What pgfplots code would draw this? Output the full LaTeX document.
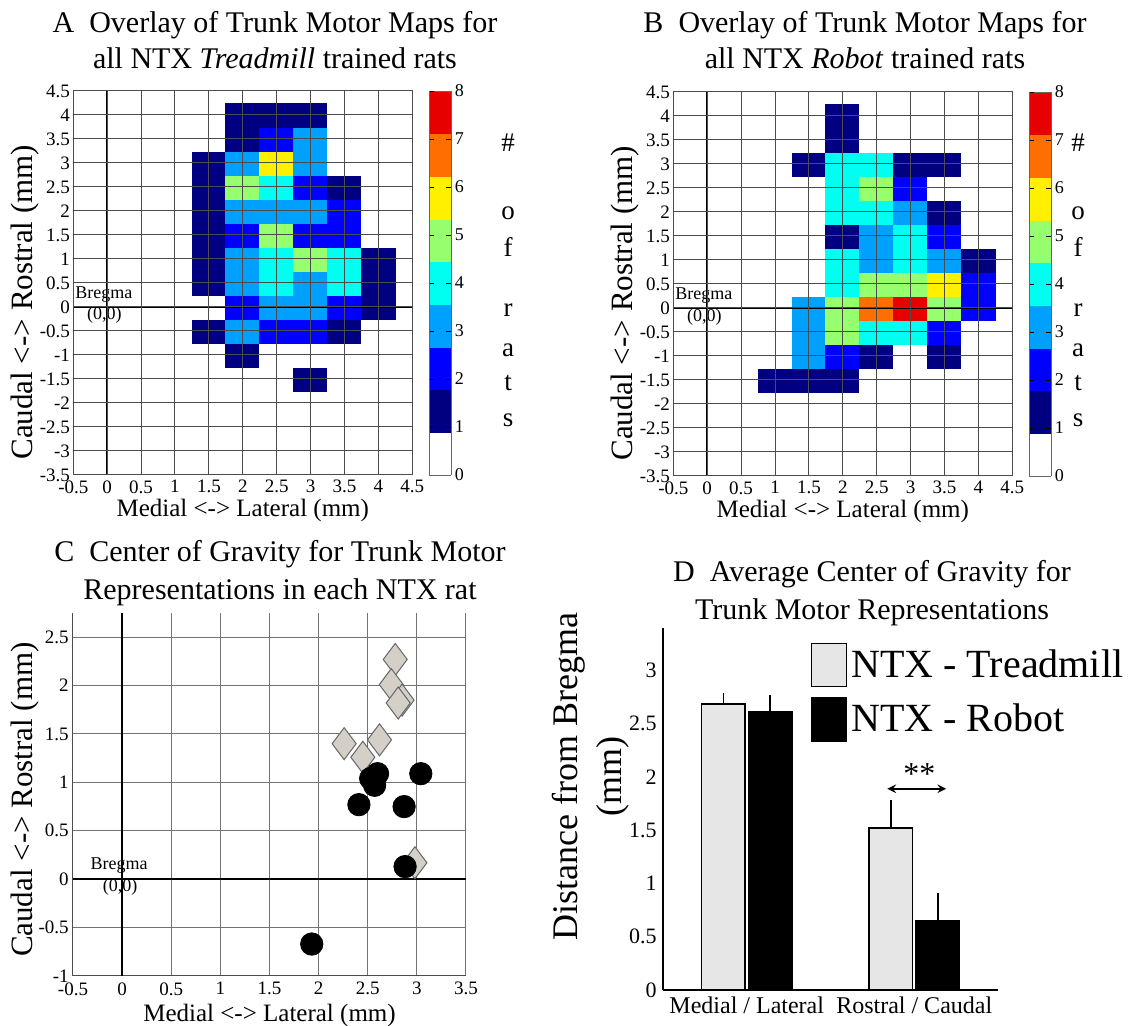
\documentclass[border=0pt]{standalone}
\usepackage{fontspec}
\setmainfont{Liberation Serif}
\usepackage{pgfplots}
\pgfplotsset{compat=1.18}
\pgfplotsset{every axis/.append style={/pgf/number format/assume math mode=true}}
\pgfplotsset{
  boxlegend/.style={legend image code/.code={\draw[##1] (0pt,-10.75pt) rectangle (17.5pt,10.75pt);}},
  colormap={rats}{rgb255=(255,255,255) rgb255=(0,0,128) rgb255=(0,0,255) rgb255=(0,160,255) rgb255=(0,255,240) rgb255=(150,255,110) rgb255=(255,240,0) rgb255=(255,110,0) rgb255=(230,0,0)},
  mapaxis/.style={
    scale only axis, width=169.5pt, height=192pt,
    xmin=-0.5, xmax=4.5, ymin=-3.5, ymax=4.5,
    xtick={-0.5,0,0.5,1,1.5,2,2.5,3,3.5,4,4.5},
    xticklabels={-0.5,0,0.5,1,1.5,2,2.5,3,3.5,4,4.5},
    ytick={-3.5,-3,-2.5,-2,-1.5,-1,-0.5,0,0.5,1,1.5,2,2.5,3,3.5,4,4.5},
    yticklabels={-3.5,-3,-2.5,-2,-1.5,-1,-0.5,0,0.5,1,1.5,2,2.5,3,3.5,4,4.5},
    grid=major, grid style={black!70, line width=0.5pt},
    axis on top, major tick length=0pt,
    axis line style={black!70, line width=0.5pt},
    tick label style={font=\fontsize{9.5}{11}\selectfont},
    xticklabel style={inner sep=2.5pt},
    yticklabel style={inner sep=1.5pt},
    colormap name=rats, colormap access=piecewise constant,
    point meta min=0, point meta max=8,
    colorbar,
    colorbar style={width=11pt, at={(parent axis.north east)}, anchor=north west,
      ytick={0,1,2,3,4,5,6,7,8}, /pgf/number format/assume math mode=true,
      yticklabel style={font=\fontsize{9}{11}\selectfont, inner sep=1.5pt},
      major tick length=2.5pt, axis line style={black!60}, tick style={black}},
    xlabel={Medial <-> Lateral (mm)},
    ylabel={Caudal <-> Rostral (mm)},
    xlabel style={font=\fontsize{12.5}{15}\selectfont, at={(axis description cs:0.5,0)}, anchor=center, yshift=-18pt},
    ylabel style={font=\fontsize{15.5}{17}\selectfont, at={(axis description cs:-0.142,0.45)}, anchor=center},
  },
}
\begin{document}
\begin{tikzpicture}
\useasboundingbox (0,0) rectangle (568pt,513pt);

% ---------------- Panel A ----------------
\begin{axis}[mapaxis, at={(36.65pt,275.5pt)}, anchor=south west]
\addplot[matrix plot*, mesh/cols=6, point meta=explicit] table[meta=c] {
x y c
1.5 -1.5 0
2 -1.5 0
2.5 -1.5 0
3 -1.5 1
3.5 -1.5 0
4 -1.5 0
1.5 -1 0
2 -1 1
2.5 -1 0
3 -1 0
3.5 -1 0
4 -1 0
1.5 -0.5 1
2 -0.5 3
2.5 -0.5 2
3 -0.5 2
3.5 -0.5 1
4 -0.5 0
1.5 0 0
2 0 2
2.5 0 3
3 0 3
3.5 0 2
4 0 1
1.5 0.5 1
2 0.5 3
2.5 0.5 4
3 0.5 3
3.5 0.5 4
4 0.5 1
1.5 1 1
2 1 3
2.5 1 4
3 1 5
3.5 1 4
4 1 1
1.5 1.5 1
2 1.5 2
2.5 1.5 5
3 1.5 2
3.5 1.5 2
4 1.5 0
1.5 2 1
2 2 3
2.5 2 3
3 2 3
3.5 2 2
4 2 0
1.5 2.5 1
2 2.5 5
2.5 2.5 4
3 2.5 2
3.5 2.5 1
4 2.5 0
1.5 3 1
2 3 3
2.5 3 6
3 3 3
3.5 3 0
4 3 0
1.5 3.5 0
2 3.5 1
2.5 3.5 2
3 3.5 3
3.5 3.5 0
4 3.5 0
1.5 4 0
2 4 1
2.5 4 1
3 4 1
3.5 4 0
4 4 0
};
\addplot[black, line width=1pt] coordinates {(0,-3.5) (0,4.5)};
\addplot[black, line width=1pt] coordinates {(-0.5,0) (4.5,0)};
\node[font=\fontsize{9}{10}\selectfont] at (axis cs:-0.05,0.25) {Bregma};
\node[font=\fontsize{9}{10}\selectfont] at (axis cs:-0.04,-0.18) {(0,0)};
\end{axis}

% ---------------- Panel B ----------------
\begin{axis}[mapaxis, at={(336.65pt,275pt)}, anchor=south west]
\addplot[matrix plot*, mesh/cols=7, point meta=explicit] table[meta=c] {
x y c
1 -1.5 1
1.5 -1.5 1
2 -1.5 1
2.5 -1.5 0
3 -1.5 0
3.5 -1.5 0
4 -1.5 0
1 -1 0
1.5 -1 3
2 -1 2
2.5 -1 1
3 -1 0
3.5 -1 1
4 -1 0
1 -0.5 0
1.5 -0.5 3
2 -0.5 5
2.5 -0.5 4
3 -0.5 4
3.5 -0.5 2
4 -0.5 0
1 0 0
1.5 0 3
2 0 5
2.5 0 7
3 0 8
3.5 0 5
4 0 2
1 0.5 0
1.5 0.5 0
2 0.5 4
2.5 0.5 5
3 0.5 5
3.5 0.5 6
4 0.5 2
1 1 0
1.5 1 0
2 1 4
2.5 1 3
3 1 4
3.5 1 3
4 1 1
1 1.5 0
1.5 1.5 0
2 1.5 1
2.5 1.5 3
3 1.5 4
3.5 1.5 2
4 1.5 0
1 2 0
1.5 2 0
2 2 4
2.5 2 4
3 2 3
3.5 2 1
4 2 0
1 2.5 0
1.5 2.5 0
2 2.5 4
2.5 2.5 5
3 2.5 2
3.5 2.5 0
4 2.5 0
1 3 0
1.5 3 1
2 3 4
2.5 3 4
3 3 1
3.5 3 1
4 3 0
1 3.5 0
1.5 3.5 0
2 3.5 1
2.5 3.5 0
3 3.5 0
3.5 3.5 0
4 3.5 0
1 4 0
1.5 4 0
2 4 1
2.5 4 0
3 4 0
3.5 4 0
4 4 0
};
\addplot[black, line width=1pt] coordinates {(0,-3.5) (0,4.5)};
\addplot[black, line width=1pt] coordinates {(-0.5,0) (4.5,0)};
\node[font=\fontsize{9}{10}\selectfont] at (axis cs:-0.05,0.25) {Bregma};
\node[font=\fontsize{9}{10}\selectfont] at (axis cs:-0.04,-0.2) {(0,0)};
\end{axis}

% ---------------- Panel C ----------------
\begin{axis}[at={(36.5pt,25pt)}, anchor=south west, scale only axis, width=196.5pt, height=181.5pt,
  xmin=-0.5, xmax=3.5, ymin=-1, ymax=2.75,
  axis x line*=bottom, axis y line*=left,
  xtick={-0.5,0,0.5,1,1.5,2,2.5,3,3.5},
  xticklabels={-0.5,0,0.5,1,1.5,2,2.5,3,3.5},
  ytick={-1,-0.5,0,0.5,1,1.5,2,2.5},
  yticklabels={-1,-0.5,0,0.5,1,1.5,2,2.5},
  grid=major, grid style={black!55, line width=0.5pt}, major tick length=0pt,
  axis line style={black!70, line width=0.5pt},
  tick label style={font=\fontsize{9.5}{11}\selectfont},
  xticklabel style={inner sep=3pt},
  yticklabel style={inner sep=2pt},
  xlabel={Medial <-> Lateral (mm)},
  ylabel={Caudal <-> Rostral (mm)},
  xlabel style={font=\fontsize{12.5}{15}\selectfont, at={(axis description cs:0.5,0)}, anchor=center, yshift=-19.5pt},
  ylabel style={font=\fontsize{15.5}{17}\selectfont, at={(axis description cs:-0.122,0.486)}, anchor=center},
]
\addplot[black, line width=1pt] coordinates {(0,-1) (0,2.75)};
\addplot[black, line width=1pt] coordinates {(-0.5,0) (3.5,0)};
\addplot[only marks, mark=diamond*, mark size=8pt, mark options={fill={rgb,255:red,212;green,208;blue,200}, draw=black!60, line width=0.5pt}] coordinates {
(2.78,2.27) (2.74,2.01) (2.85,1.85) (2.81,1.82) (2.26,1.40) (2.62,1.44) (2.45,1.26) (2.98,0.17)
};
\addplot[only marks, mark=*, mark size=5.6pt, black] coordinates {
(2.60,1.09) (2.53,1.04) (2.57,0.97) (3.04,1.09) (2.41,0.77) (2.87,0.75) (2.88,0.13) (1.93,-0.67)
};
\node[font=\fontsize{9}{10}\selectfont] at (axis cs:-0.03,0.14) {Bregma};
\node[font=\fontsize{9}{10}\selectfont] at (axis cs:-0.02,-0.08) {(0,0)};
\end{axis}

% ---------------- Panel D ----------------
\begin{axis}[at={(331.5pt,18pt)}, anchor=south west, scale only axis, width=167.5pt, height=181pt,
  ybar, bar width=0.26, xmin=0.5, xmax=2.5, ymin=0, ymax=3.4,
  axis x line*=bottom, axis y line*=left,
  axis line style={black, line width=0.8pt},
  xtick={1,2}, xticklabels={Medial / Lateral, Rostral / Caudal},
  ytick={0,0.5,1,1.5,2,2.5,3}, yticklabels={0,0.5,1,1.5,2,2.5,3},
  major tick length=0pt,
  xticklabel style={font=\fontsize{12}{14}\selectfont, inner sep=3pt},
  yticklabel style={font=\fontsize{11}{13}\selectfont, inner sep=0pt, xshift=-3pt},
  ylabel={Distance from Bregma\\(mm)},
  ylabel style={align=center, font=\fontsize{18}{22}\selectfont, at={(axis description cs:-0.215,0.59)}, anchor=center},
  legend style={at={(axis description cs:0.44,0.961)}, anchor=north west, draw=none, fill=none,
    font=\fontsize{20}{24}\selectfont, row sep=5pt, inner sep=0pt},
  legend cell align=left,
  clip=false,
]
\addplot[bar shift=-0.14, fill={rgb,255:red,230;green,230;blue,230}, draw=black, line width=0.8pt, boxlegend,
  error bars/.cd, y dir=plus, y explicit, error bar style={black, line width=0.8pt}, error mark options={black, mark size=1.5pt, line width=0.8pt}]
  coordinates {(1,2.685) +- (0,0.075) (2,1.52) +- (0,0.24)};
\addlegendentry{NTX - Treadmill}
\addplot[bar shift=0.14, fill=black, draw=black, line width=0.8pt, boxlegend,
  error bars/.cd, y dir=plus, y explicit, error bar style={black, line width=0.8pt}, error mark options={black, mark size=1.5pt, line width=0.8pt}]
  coordinates {(1,2.61) +- (0,0.13) (2,0.65) +- (0,0.23)};
\addlegendentry{NTX - Robot}
\draw[<->, >=stealth, line width=0.9pt] (axis cs:1.84,1.89) -- (axis cs:2.19,1.89);
\node[font=\fontsize{16}{18}\selectfont] at (axis cs:2.03,2.03) {**};
\end{axis}

% ---------------- Titles ----------------
\node[align=center, font=\fontsize{15}{18}\selectfont] at (137.5pt,493pt) {A\ \ Overlay of Trunk Motor Maps for\\all NTX \textit{Treadmill} trained rats};
\node[align=center, font=\fontsize{15}{18}\selectfont] at (432.5pt,493pt) {B\ \ Overlay of Trunk Motor Maps for\\all NTX \textit{Robot} trained rats};
\node[align=center, font=\fontsize{15}{19}\selectfont] at (140pt,226.5pt) {C\ \ Center of Gravity for Trunk Motor\\Representations in each NTX rat};
\node[align=center, font=\fontsize{15}{19}\selectfont] at (436pt,216.5pt) {D\ \ Average Center of Gravity for\\Trunk Motor Representations};

% ---------------- "# of rats" letters ----------------
\foreach \lx in {254pt,539pt}{
  \node[font=\fontsize{13.5}{16}\selectfont] at (\lx,441.5pt) {\#};
  \node[font=\fontsize{13.5}{16}\selectfont] at (\lx,406.5pt) {o};
  \node[font=\fontsize{13.5}{16}\selectfont] at (\lx,389.5pt) {f};
  \node[font=\fontsize{13.5}{16}\selectfont] at (\lx,358pt) {r};
  \node[font=\fontsize{13.5}{16}\selectfont] at (\lx,338pt) {a};
  \node[font=\fontsize{13.5}{16}\selectfont] at (\lx,321.5pt) {t};
  \node[font=\fontsize{13.5}{16}\selectfont] at (\lx,303pt) {s};
}
\end{tikzpicture}
\end{document}
